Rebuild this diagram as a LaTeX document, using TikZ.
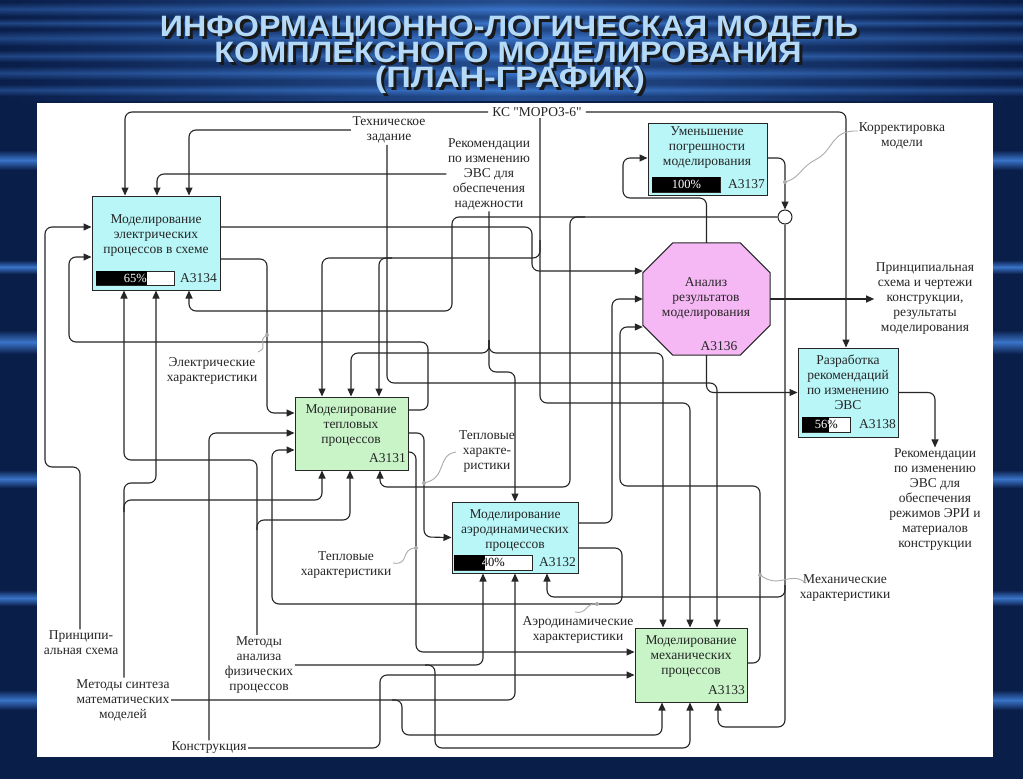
\documentclass[tikz,border=0pt]{standalone}
\usepackage{fontspec}
\setmainfont{Liberation Serif}
\setsansfont{Liberation Sans}
\newfontfamily\ksfont{Liberation Serif}[Ligatures=TeXOff]
\usetikzlibrary{arrows.meta}

\definecolor{bgblue}{HTML}{0A1E4A}
\definecolor{streak}{HTML}{3A74C8}
\definecolor{ttlblue}{HTML}{B4DAF8}
\definecolor{boxcyan}{HTML}{B8F6F8}
\definecolor{boxgreen}{HTML}{C8F4C8}
\definecolor{boxpink}{HTML}{F6B8F4}
\definecolor{wirec}{HTML}{262626}

\newcommand{\lblfont}{\fontsize{13.5}{15}\selectfont}
\newcommand{\pctfont}{\fontsize{12.5}{14}\selectfont}
\newcommand{\titlefont}{\sffamily\bfseries\fontsize{29.5}{29.5}\selectfont}

\tikzset{
  wire/.style={draw=wirec, line width=1.1pt, rounded corners=7pt},
  conn/.style={wire, -{Triangle[length=8pt,width=7pt]}},
  ibox/.style={draw=wirec, line width=1pt, inner sep=0pt},
  lbl/.style={font=\lblfont, align=center, text=black!85, inner sep=1.5pt},
  code/.style={font=\lblfont, text=black!85, inner sep=1pt, anchor=east},
  pct/.style={font=\pctfont, inner sep=0pt},
  squig/.style={draw=gray!65, line width=0.9pt},
  sqdot/.style={fill=gray!65},
}

% title line with its shadow in one node: name, x, baseline y, width, text
\newcommand{\ttlline}[5]{%
  \node[anchor=base, inner sep=0pt, font=\titlefont] (#1) at (#2,#3)
    {\rlap{\smash{\hspace{3pt}\raisebox{-3pt}{\textcolor{black!90}{\resizebox{#4pt}{\height}{#5}}}}}\textcolor{ttlblue}{\resizebox{#4pt}{\height}{#5}}};
}
% percent bar: name, x1, y1, x2, y2, x of fill, text
\newcommand{\pctbar}[7]{%
  \node[draw=wirec, fill=white, line width=0.8pt, minimum width=#4-#2, minimum height=#5-#3, inner sep=0pt, anchor=north west] (#1) at (#2,#3) {};
  \fill[black] (#2,#3) rectangle (#6,#5);
  \node[pct, text=black] (#1-t) at (#1.center) {#7};
  \begin{scope}
    \clip (#2,#3) rectangle (#6,#5);
    \node[pct, text=white] (#1-w) at (#1.center) {#7};
  \end{scope}
}

\begin{document}
\begin{tikzpicture}[x=1pt,y=-1pt]
\useasboundingbox (0,0) rectangle (1023,779);

% background
\fill[bgblue] (0,0) rectangle (1023,779);
\foreach \y/\h in {2/14, 18/10, 30/16, 50/12, 66/14, 84/12, 150/20, 260/14, 330/24, 470/18, 590/16, 690/20}{
  \shade[top color=bgblue, bottom color=bgblue, middle color=streak] (0,\y) rectangle (1023,\y+\h);
}
\shade[left color=bgblue, right color=bgblue, middle color=streak, opacity=0.55] (0,0) rectangle (1023,100);
\fill[white] (37,103) rectangle (993,757);

% title
\ttlline{t1}{509}{37}{698}{ИНФОРМАЦИОННО-ЛОГИЧЕСКАЯ МОДЕЛЬ}
\ttlline{t2}{508}{62}{587}{КОМПЛЕКСНОГО МОДЕЛИРОВАНИЯ}
\ttlline{t3}{510}{87}{270}{(ПЛАН-ГРАФИК)}

% blocks
\node[ibox, fill=boxcyan, minimum width=128, minimum height=94] (elec) at (156,243) {};
\node[ibox, fill=boxcyan, minimum width=119, minimum height=72] (red) at (707.5,159) {};
\node[draw=none, minimum width=127, minimum height=112, inner sep=0pt] (anal) at (706.5,299) {};
\draw[ibox, fill=boxpink] ([xshift=30pt]anal.north west) -- ([xshift=-30pt]anal.north east)
  -- ([yshift=-30pt]anal.north east) -- ([yshift=30pt]anal.south east)
  -- ([xshift=-30pt]anal.south east) -- ([xshift=30pt]anal.south west)
  -- ([yshift=30pt]anal.south west) -- ([yshift=-30pt]anal.north west) -- cycle;
\node[ibox, fill=boxcyan, minimum width=100, minimum height=89] (rec) at (848,392.5) {};
\node[ibox, fill=boxgreen, minimum width=113, minimum height=73] (heat) at (351.5,433.5) {};
\node[ibox, fill=boxcyan, minimum width=126, minimum height=71] (aero) at (515,537.5) {};
\node[ibox, fill=boxgreen, minimum width=112, minimum height=74] (mech) at (691,665) {};
\node[circle, draw=wirec, line width=1pt, fill=white, minimum size=14, inner sep=0pt] (jn) at (785,217) {};

\node[lbl] (elec-t) at (156,236) {Моделирование\\электрических\\процессов в схеме};
\node[code] (elec-c) at (218,278) {A3134};
\pctbar{elec-b}{96}{271}{174}{285}{147}{65\%}
\node[lbl] (red-t) at (707,148) {Уменьшение\\погрешности\\моделирования};
\node[code] (red-c) at (766,184) {A3137};
\pctbar{red-b}{652}{177}{720}{192}{720}{100\%}
\node[lbl] (anal-t) at (706,298) {Анализ\\результатов\\моделирования};
\node[lbl] (anal-c) at (719,346) {A3136};
\node[lbl] (rec-t) at (848,382) {Разработка\\рекомендаций\\по изменению\\ЭВС};
\node[code] (rec-c) at (897,424) {A3138};
\pctbar{rec-b}{802}{417}{850}{432}{829}{56\%}
\node[lbl] (heat-t) at (351,426) {Моделирование\\тепловых\\процессов};
\node[code] (heat-c) at (407,458) {A3131};
\node[lbl] (aero-t) at (515,531) {Моделирование\\аэродинамических\\процессов};
\node[code] (aero-c) at (577,562) {A3132};
\pctbar{aero-b}{454}{555}{532}{570}{485}{40\%}
\node[lbl] (mech-t) at (691,657) {Моделирование\\механических\\процессов};
\node[code] (mech-c) at (746,690) {A3133};

% labels
\node[lbl, fill=white, inner xsep=4pt] (ks) at (537,112) {\ksfont КС "МОРОЗ-6"};
\node[lbl] (tz) at (389,130) {Техническое\\задание};
\node[lbl] (rn) at (489,174) {Рекомендации\\по изменению\\ЭВС для\\обеспечения\\надежности};
\node[lbl] (km) at (902,136) {Корректировка\\модели};
\node[lbl] (out1) at (925,299) {Принципиальная\\схема и чертежи\\конструкции,\\результаты\\моделирования};
\node[lbl] (out2) at (935,500) {Рекомендации\\по изменению\\ЭВС для\\обеспечения\\режимов ЭРИ и\\материалов\\конструкции};
\node[lbl] (ec) at (212,371) {Электрические\\характеристики};
\node[lbl] (th1) at (487,452) {Тепловые\\характе-\\ристики};
\node[lbl] (th2) at (346,565) {Тепловые\\характеристики};
\node[lbl] (ad) at (578,630) {Аэродинамические\\характеристики};
\node[lbl] (mh) at (845,588) {Механические\\характеристики};
\node[lbl] (ps) at (81,643) {Принципи-\\альная схема};
\node[lbl] (ms) at (123,700) {Методы синтеза\\математических\\моделей};
\node[lbl] (ma) at (259,665) {Методы\\анализа\\физических\\процессов};
\node[lbl] (kn) at (209,748) {Конструкция};

% controls
\draw[conn] (ks.west) -| (125,0 |- elec.north);
\draw[conn] (ks.east) -| (846,0 |- rec.north);
\draw[conn] (540,0 |- ks.south) -- (540,403) -| (690,0 |- mech.north);
\coordinate (ksb) at (540,240);
\coordinate (ksc) at (392,258);
\draw[conn] (ksb) |- (322,258) -- (322,0 |- heat.north);
\draw[conn] (ksc) -| (379,0 |- heat.north);
\draw[conn] (tz.west) -| (189,0 |- elec.north);
\draw[conn] (387,0 |- tz.south) -- (387,383) -| (717,0 |- mech.north);
\draw[conn] (rn.west) -| (157,0 |- elec.north);
\draw[conn] (489,0 |- rn.south) -- (489,372) -| (515,0 |- aero.north);
\coordinate (rnb) at (489,340);
\draw[conn] (rnb) |- (351,353) -- (351,0 |- heat.north);
\draw[conn] (rnb) |- (663,353) -- (663,0 |- mech.north);

% inputs
\draw[conn] (80,0 |- ps.north) -- (80,467) -- (45,467) -- (45,227) -- (elec.west |- 0,227);
\draw[conn] (kn.north) -- (209,433) -- (heat.west |- 0,433);
\draw[conn] (kn.east) -- (380,748) -- (380,675) -- (mech.west |- 0,675);

% mechanisms
\draw[conn] (124,0 |- ms.north) -- (124,483) -- (156,483) -- (156,0 |- elec.south);
\coordinate (msb) at (124,512);
\draw[conn] (msb) |- (322,500) -- (322,0 |- heat.south);
\draw[conn] (ms.east) -| (515,0 |- aero.south);
\coordinate (msc) at (392,700);
\draw[conn] (msc) -| (402,735) -- (662,735) -- (662,0 |- mech.south);
\draw[conn] (257,0 |- ma.north) -- (257,460) -- (124,460) -- (124,0 |- elec.south);
\coordinate (mab) at (257,530);
\draw[conn] (mab) |- (350,520) -- (350,0 |- heat.south);
\draw[conn] (ma.east) -| (483,0 |- aero.south);
\coordinate (mac) at (425,665);
\draw[conn] (mac) -| (435,748) -- (690,748) -- (690,0 |- mech.south);

% outputs
\draw[conn] (elec.east |- 0,227) -- (532,227) -- (532,271) -- (anal.west |- 0,271);
\draw[conn] (elec.east |- 0,259) -- (267,259) -- (267,413) -- (heat.west |- 0,413);
\draw[conn] (heat.east |- 0,410) -- (428,410) -- (428,342) -- (69,342) -- (69,257) -- (elec.west |- 0,257);
\draw[conn] (heat.east |- 0,433) -- (424,433) -- (424,537) -- (aero.west);
\draw[conn] (heat.east |- 0,452) -- (416,452) -- (416,652) -- (mech.west |- 0,652);
\draw[conn] (aero.east |- 0,523) -- (612,523) -- (612,299) -- (anal.west |- 0,299);
\draw[conn] (aero.east |- 0,548) -- (622,548) -- (622,604) -- (272,604) -- (272,450) -- (heat.west |- 0,450);
\draw[conn] (mech.east |- 0,663) -- (760,663) -- (760,486) -- (620,486) -- (620,327) -- (anal.west |- 0,327);
\draw[conn] (anal.north) -- (706.5,198) -- (623,198) -- (623,158) -- (red.west |- 0,158);
\draw[conn] (anal.east) -- (out1.west);
\draw[conn] (anal.south) -- (706.5,392.5) -- (rec.west);
\draw[conn] (red.east |- 0,158) -| (jn.north);
\draw[conn] (rec.east) -| (out2.north);

% model correction from the junction
\draw[conn] (jn.west) -- (452,217) -- (452,311) -- (189,311) -- (189,0 |- elec.south);
\coordinate (jnb) at (585,217);
\draw[conn] (jnb) -- (570,217) -- (570,487) -- (380,487) -- (380,0 |- heat.south);
\draw[conn] (jn.south) -- (785,727) -- (718,727) -- (718,0 |- mech.south);
\coordinate (jnc) at (785,585);
\draw[conn] (jnc) |- (547,597) -- (547,0 |- aero.south);

% squiggles
\draw[squig] (258,352) .. controls (270,347) and (256,341) .. (267,335);
\fill[sqdot] (267,335) circle (2pt);
\draw[squig] (456,452) .. controls (436,455) and (448,478) .. (424,483);
\fill[sqdot] (424,483) circle (2pt);
\draw[squig] (393,563) .. controls (410,566) and (400,548) .. (416,548);
\fill[sqdot] (416,548) circle (2pt);
\draw[squig] (575,612) .. controls (587,615) and (586,602) .. (597,604);
\fill[sqdot] (597,604) circle (2pt);
\draw[squig] (806,583) .. controls (790,570) and (780,590) .. (760,575);
\fill[sqdot] (760,575) circle (2pt);
\draw[squig] (858,131) .. controls (830,130) and (835,150) .. (815,160) .. controls (800,168) and (800,178) .. (785,182);
\fill[sqdot] (785,182) circle (2pt);
\end{tikzpicture}
\end{document}
